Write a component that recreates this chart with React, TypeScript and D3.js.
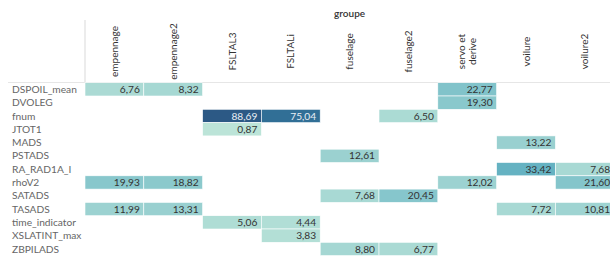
import * as d3 from "d3";

const columns = [
  "empennage",
  "empennage2",
  "FSLTAL3",
  "FSLTALi",
  "fuselage",
  "fuselage2",
  "servo et derive",
  "voilure",
  "voilure2",
];

const rows = [
  "DSPOIL_mean",
  "DVOLEG",
  "fnum",
  "JTOT1",
  "MADS",
  "PSTADS",
  "RA_RAD1A_I",
  "rhoV2",
  "SATADS",
  "TASADS",
  "time_indicator",
  "XSLATINT_max",
  "ZBPILADS",
];

// [row, column, value]
const cells: [string, string, number][] = [
  ["DSPOIL_mean", "empennage", 6.76],
  ["DSPOIL_mean", "empennage2", 8.32],
  ["DSPOIL_mean", "servo et derive", 22.77],
  ["DVOLEG", "servo et derive", 19.3],
  ["fnum", "FSLTAL3", 88.69],
  ["fnum", "FSLTALi", 75.04],
  ["fnum", "fuselage2", 6.5],
  ["JTOT1", "FSLTAL3", 0.87],
  ["MADS", "voilure", 13.22],
  ["PSTADS", "fuselage", 12.61],
  ["RA_RAD1A_I", "voilure", 33.42],
  ["RA_RAD1A_I", "voilure2", 7.68],
  ["rhoV2", "empennage", 19.93],
  ["rhoV2", "empennage2", 18.82],
  ["rhoV2", "servo et derive", 12.02],
  ["rhoV2", "voilure2", 21.6],
  ["SATADS", "fuselage", 7.68],
  ["SATADS", "fuselage2", 20.45],
  ["TASADS", "empennage", 11.99],
  ["TASADS", "empennage2", 13.31],
  ["TASADS", "voilure", 7.72],
  ["TASADS", "voilure2", 10.81],
  ["time_indicator", "FSLTAL3", 5.06],
  ["time_indicator", "FSLTALi", 4.44],
  ["XSLATINT_max", "FSLTALi", 3.83],
  ["ZBPILADS", "fuselage", 8.8],
  ["ZBPILADS", "fuselage2", 6.77],
];

// Tableau-like blue-teal ramp
const blueTeal = [
  "#bce4d8", "#aedcd5", "#a1d5d2", "#95cecf", "#89c8cc",
  "#7ec1ca", "#72bac6", "#66b2c2", "#59acbe", "#4ba5ba",
  "#419eb6", "#3b96b2", "#358ead", "#3586a7", "#347ea1",
  "#32779b", "#316f96", "#2f6790", "#2d608a", "#2c5985",
];

const W = 610;
const H = 259;
const FONT = "Lato, 'Noto Sans', sans-serif";

export default function App() {
  const x = d3.scaleBand().domain(columns).range([85, 85 + 9 * 58.8]);
  const y = d3.scaleBand().domain(rows).range([82.7, 82.7 + 13 * 13.3]);
  const vals = cells.map((c) => c[2]);
  const color = d3
    .scaleSequential(d3.interpolateRgbBasis(blueTeal))
    .domain([d3.min(vals)!, d3.max(vals)!]);
  const fmt = (v: number) => d3.format(".2f")(v).replace(".", ",");

  return (
    <svg
      width={W}
      height={H}
      style={{ position: "absolute", left: 0, top: 0, background: "#fff" }}
      fontFamily={FONT}
    >
      {/* header */}
      <text x={(x.range()[0] + x.range()[1]) / 2} y={17} textAnchor="middle" fontSize={10} fill="#333" fontWeight={600}>
        groupe
      </text>
      <line x1={85} x2={85} y1={20} y2={82.5} stroke="#d9d9d9" />
      <line x1={8} x2={W} y1={82.5} y2={82.5} stroke="#e6e6e6" />

      {columns.map((c) => {
        const cx = x(c)! + x.bandwidth() / 2;
        const lines = c === "servo et derive" ? ["servo et", "derive"] : [c];
        return (
          <text
            key={c}
            transform={`translate(${cx},51.5) rotate(-90)`}
            textAnchor="middle"
            fontSize={10}
            fill="#333"
          >
            {lines.map((l, i) => (
              <tspan key={l} x={0} y={(i - (lines.length - 1) / 2) * 10.6 + 3.5}>
                {l}
              </tspan>
            ))}
          </text>
        );
      })}

      {rows.map((r) => (
        <text key={r} x={12} y={y(r)! + y.bandwidth() / 2 + 3.6} fontSize={10.2} fill="#666">
          {r}
        </text>
      ))}

      {cells.map(([r, c, v]) => (
        <g key={r + c}>
          <rect
            x={x(c)!}
            y={y(r)!}
            width={x.bandwidth()}
            height={y.bandwidth()}
            fill={color(v)}
            stroke="#fff"
            strokeWidth={0.6}
          />
          <text
            x={x(c)! + x.bandwidth() - 4}
            y={y(r)! + y.bandwidth() / 2 + 3.6}
            textAnchor="end"
            fontSize={10.2}
            fill={v > 60 ? "#e8eef4" : "#333"}
          >
            {fmt(v)}
          </text>
        </g>
      ))}
    </svg>
  );
}
